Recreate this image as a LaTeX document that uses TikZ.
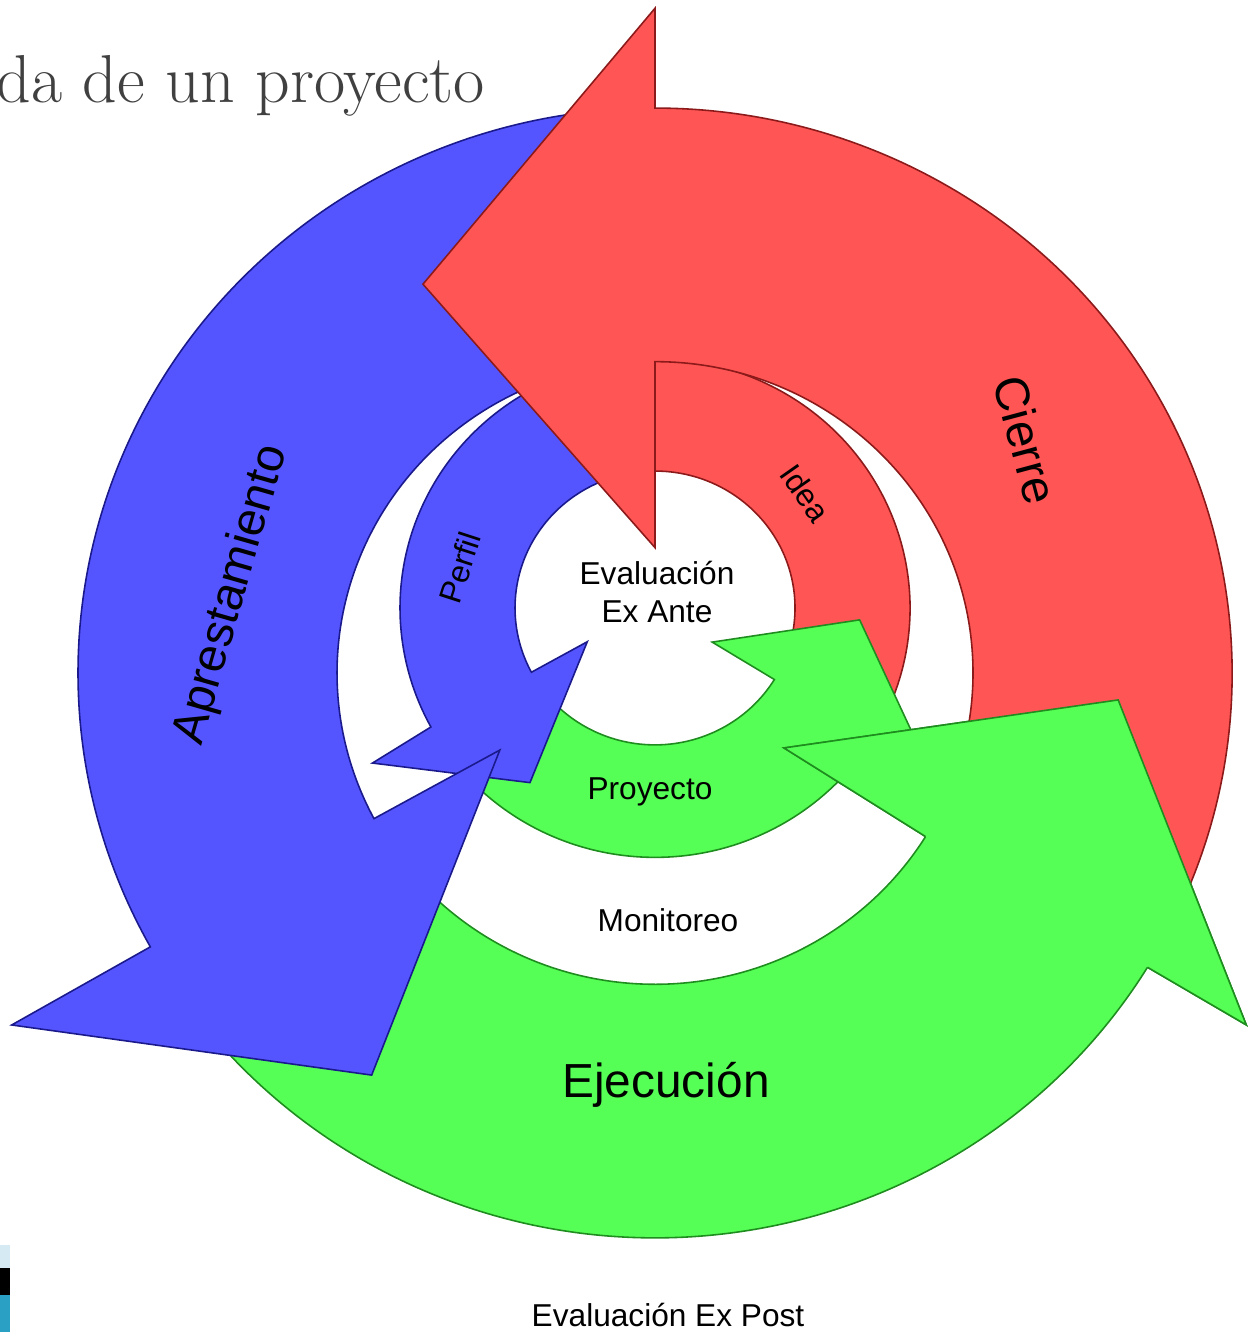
\documentclass[tikz,border=0pt]{standalone}
\usepackage{fontspec}
\usepackage{xcolor}
\usepackage{tikz}
\newfontfamily\labelfont{Liberation Sans}
\definecolor{bandblue}{HTML}{5555FF}
\definecolor{edgeblue}{HTML}{1A1A8C}
\definecolor{bandred}{HTML}{FF5555}
\definecolor{edgered}{HTML}{8C1A1A}
\definecolor{bandgreen}{HTML}{55FF55}
\definecolor{edgegreen}{HTML}{1E8C1E}
\definecolor{titlegrey}{HTML}{404040}
\definecolor{cornerlight}{HTML}{D5EAF2}
\definecolor{cornerteal}{HTML}{2AA0C4}

\begin{document}
\begin{tikzpicture}[
    blueband/.style={fill=bandblue, draw=edgeblue, line width=0.45pt, line join=miter},
    redband/.style={fill=bandred, draw=edgered, line width=0.45pt, line join=miter},
    greenband/.style={fill=bandgreen, draw=edgegreen, line width=0.45pt, line join=miter},
    lbl/.style={font=\labelfont\fontsize{9}{10.8}\selectfont, align=center, inner sep=0pt},
    biglbl/.style={font=\labelfont\fontsize{13.6}{16}\selectfont, inner sep=0pt}
]
    \useasboundingbox (0,0) rectangle (12.49,13.32);

    % Title (cut at the left edge)
    \node[anchor=base west, inner sep=0pt, text=titlegrey, font=\fontsize{19.3}{21}\selectfont] (title) at (-0.04,12.29) {da de un proyecto};

    % Corner of a picture, bottom left
    \fill[cornerlight] (0,0.64) rectangle (0.10,0.87);
    \fill[black] (0,0.37) rectangle (0.10,0.64);
    \fill[cornerteal] (0,0) rectangle (0.10,0.37);

    % Inner ring
    \begin{scope}[shift={(6.55,7.24)}, yscale=0.978]
        \filldraw[redband] (-27:1.40) -- (-27:2.55) arc[start angle=-27, end angle=90, radius=2.55]
            -- (90:3.24) -- (116.5:2.12) -- (90:0.72) -- (90:1.40)
            arc[start angle=90, end angle=-27, radius=1.40] -- cycle;
        \filldraw[greenband] (215:1.40) -- (215:2.55) arc[start angle=215, end angle=328.5, radius=2.55]
            -- (328.5:3.24) -- (356.6:2.05) -- (328.6:0.67) -- (328.5:1.40)
            arc[start angle=328.5, end angle=215, radius=1.40] -- cycle;
        \filldraw[blueband] (95:1.40) -- (95:2.55) arc[start angle=95, end angle=208.5, radius=2.55]
            -- (209.3:3.24) -- (235:2.18) -- (207:0.76) -- (208:1.40)
            arc[start angle=208, end angle=95, radius=1.40] -- cycle;
    \end{scope}

    % Outer ring
    \begin{scope}[shift={(6.55,6.59)}, yscale=0.979]
        \filldraw[greenband] (215:3.18) -- (215:5.77) arc[start angle=215, end angle=328.6, radius=5.77]
            -- (328.7:6.92) -- (356.6:4.64) -- (329.3:1.50) -- (328.3:3.18)
            arc[start angle=328.3, end angle=215, radius=3.18] -- cycle;
        \filldraw[blueband] (95:3.18) -- (95:5.77) arc[start angle=95, end angle=209, radius=5.77]
            -- (209.2:7.37) -- (235.4:4.99) -- (206.9:1.74) -- (207.9:3.18)
            arc[start angle=207.9, end angle=95, radius=3.18] -- cycle;
        \filldraw[redband] (-28:3.18) -- (-28:5.77) arc[start angle=-28, end angle=90, radius=5.77]
            -- (90:6.79) -- (120.3:4.60) -- (90:1.28) -- (90:3.18)
            arc[start angle=90, end angle=-28, radius=3.18] -- cycle;
        % green head again, over the tail of the red band
        \fill[bandgreen] (328.6:5.77) -- (328.7:6.92) -- (356.6:4.64) -- (329.3:1.50) -- (328.3:3.18) -- cycle;
        \draw[edgegreen, line width=0.45pt, line join=miter] (328.6:5.77) -- (328.7:6.92) -- (356.6:4.64) -- (329.3:1.50) -- (328.3:3.18);
    \end{scope}

    % Labels
    \node[lbl] (exante) at (6.57,7.40) {Evaluación\\Ex Ante};
    \node[lbl, rotate=-55] (idea) at (8.05,8.39) {Idea};
    \node[lbl, rotate=72] (perfil) at (4.60,7.64) {Perfil};
    \node[lbl] (proyecto) at (6.50,5.40) {Proyecto};
    \node[lbl] (monitoreo) at (6.68,4.12) {Monitoreo};
    \node[biglbl] (ejecucion) at (6.66,2.47) {Ejecución};
    \node[biglbl, rotate=-75] (cierre) at (10.26,8.92) {Cierre};
    \node[biglbl, rotate=74] (aprest) at (2.32,7.37) {Aprestamiento};
    \node[lbl] (expost) at (6.68,0.17) {Evaluación Ex Post};

\end{tikzpicture}
\end{document}
